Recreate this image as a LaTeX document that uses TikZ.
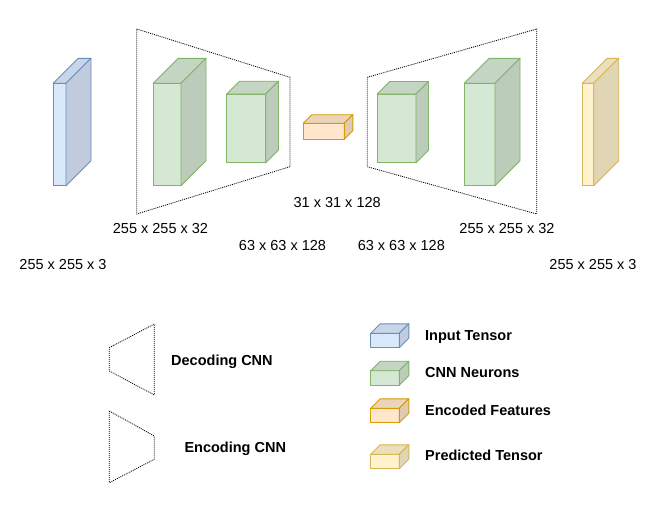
\documentclass[tikz,border=0pt]{standalone}
\usepackage{fontspec}
\setmainfont{Liberation Sans}
\definecolor{bluef}{HTML}{DAE8FC}\definecolor{blues}{HTML}{6C8EBF}
\definecolor{greenf}{HTML}{D5E8D4}\definecolor{greens}{HTML}{82B366}
\definecolor{orangef}{HTML}{FFE6CC}\definecolor{oranges}{HTML}{D79B00}
\definecolor{yellowf}{HTML}{FFF2CC}\definecolor{yellows}{HTML}{D6B656}
% \mycube{x}{y}{w}{h}{d}{fill}{stroke}
\newcommand\mycube[7]{%
  \filldraw[fill=#6, draw=#7, cubeline] (#1,#2) rectangle ++(#3,#4);
  \filldraw[fill=#6!92!black, draw=#7, cubeline] (#1,#2) -- ++(#5,-#5) -- ++(#3,0) -- ++(-#5,#5) -- cycle;
  \filldraw[fill=#6!88!black, draw=#7, cubeline] (#1+#3,#2) -- ++(#5,-#5) -- ++(0,#4) -- ++(-#5,#5) -- cycle;
}
\begin{document}
\begin{tikzpicture}[x=1pt,y=-1pt,
  cubeline/.style={line width=0.9pt, line join=round},
  trap/.style={draw=black, line width=0.8pt, dash pattern=on 1pt off 1pt},
  dimlabel/.style={font=\fontsize{14.5}{17}\selectfont, inner sep=0pt, anchor=base},
  leglabel/.style={font=\fontsize{14.5}{17}\selectfont\bfseries, inner sep=0pt, anchor=base west}]
\useasboundingbox[fill=white] (0,0) rectangle (654,517);
% trapezoids
\draw[trap] (136.7,29) coordinate (encA) -- (290,77.3) -- (290,166.7) -- (136.7,214) -- cycle;
\draw[trap] (367.3,77.3) coordinate (decA) -- (536.7,29) -- (536.7,214) -- (367.3,166.7) -- cycle;
% cubes
\mycube{53.3}{83.3}{12.7}{102.4}{25}{bluef}{blues}
\mycube{153.3}{83.3}{27.7}{102.4}{25}{greenf}{greens}
\mycube{226.7}{94}{39}{68.7}{12.8}{greenf}{greens}
\mycube{303.3}{123.3}{41}{16}{8.6}{orangef}{oranges}
\mycube{377.3}{94}{38.7}{68.7}{12.5}{greenf}{greens}
\mycube{464.3}{83.3}{30.7}{102.4}{25}{greenf}{greens}
\mycube{582.3}{83.3}{11.4}{102.4}{25}{yellowf}{yellows}
% dimension labels
\node[dimlabel] (l1) at (160.5,233.3) {255 x 255 x 32};
\node[dimlabel] (l2) at (282.5,250) {63 x 63 x 128};
\node[dimlabel] (l3) at (337.2,207.3) {31 x 31 x 128};
\node[dimlabel] (l4) at (401.3,250) {63 x 63 x 128};
\node[dimlabel] (l5) at (507,233.3) {255 x 255 x 32};
\node[dimlabel] (l6) at (63,269) {255 x 255 x 3};
\node[dimlabel] (l7) at (593,269) {255 x 255 x 3};
% legend shapes
\draw[trap] (154.3,324) -- (109.3,347.7) -- (109.3,371) -- (154.3,395) -- cycle;
\draw[trap] (109.3,411) -- (154.3,436) -- (154.3,459.3) -- (109.3,482.7) -- cycle;
\node[leglabel] (dec) at (171,365.5) {Decoding CNN};
\node[leglabel] (enc) at (184.3,452.3) {Encoding CNN};
\mycube{370.7}{333.3}{28.6}{14.4}{9.5}{bluef}{blues}
\mycube{370.7}{370.7}{28.6}{14.4}{9.5}{greenf}{greens}
\mycube{370.7}{408.3}{28.6}{14.4}{9.5}{orangef}{oranges}
\mycube{370.7}{454.3}{28.6}{14.4}{9.5}{yellowf}{yellows}
\node[leglabel] (li) at (425,340) {Input Tensor};
\node[leglabel] (lc) at (425,377.7) {CNN Neurons};
\node[leglabel] (le) at (425,415.7) {Encoded Features};
\node[leglabel] (lp) at (425,460) {Predicted Tensor};
\end{tikzpicture}
\end{document}
